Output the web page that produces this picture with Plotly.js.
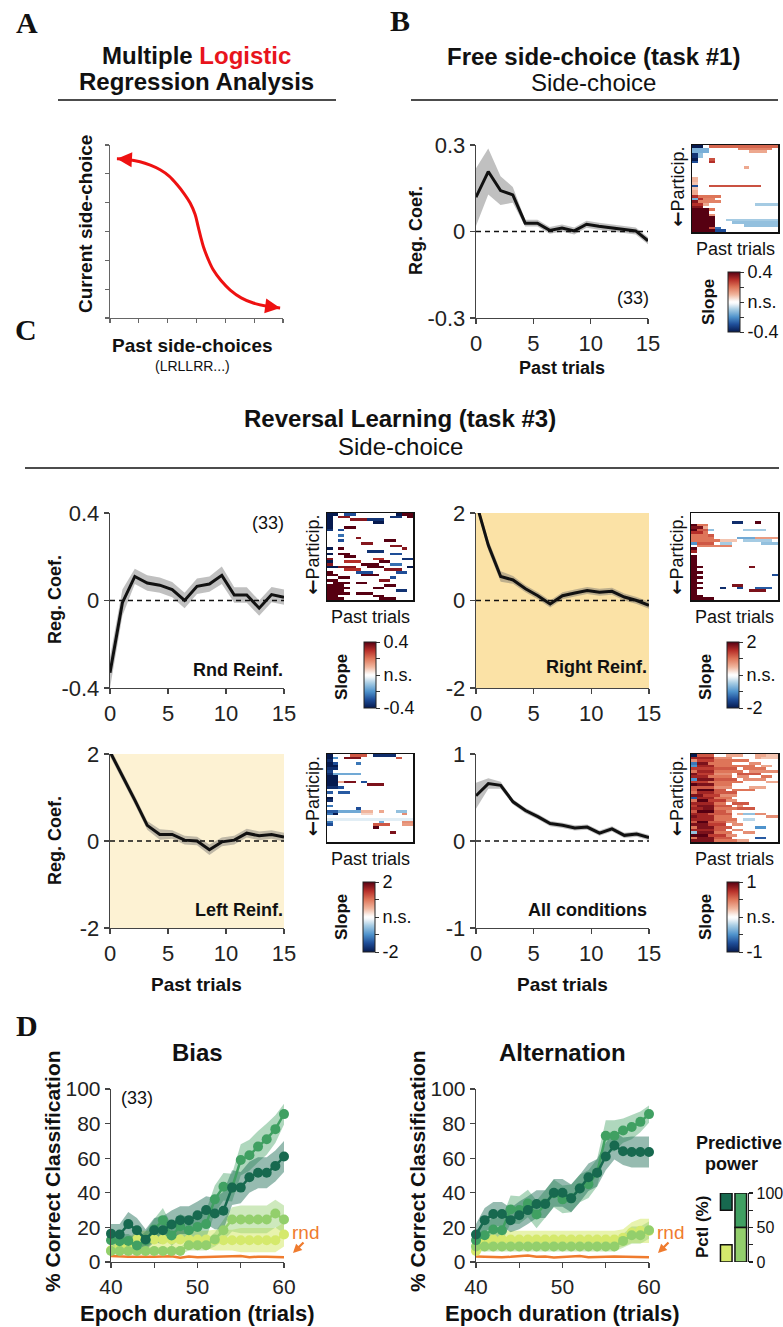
<!DOCTYPE html>
<html><head><meta charset="utf-8">
<script src="https://cdn.plot.ly/plotly-3.0.1.min.js"></script>
<style>html,body{margin:0;padding:0;background:#fff}#chart{width:783px;height:1327px}</style>
</head><body><div id="chart"></div>
<script>
// ---------------- DATA ----------------
// Panel A: schematic logistic curve (axis units 0..6)
const sigX = [0.24,0.6,1.04,1.4,1.74,2.05,2.33,2.58,2.78,2.95,3.06,3.15,3.24,3.4,3.58,3.85,4.17,4.55,4.97,5.45,5.9];
const sigY = [5.52,5.5,5.42,5.3,5.14,4.92,4.62,4.3,3.99,3.6,3.16,2.8,2.47,2.05,1.67,1.3,0.97,0.7,0.52,0.41,0.35];

// Past trials (x positions of the 15 coefficients)
const trialX = [0,1.07,2.14,3.21,4.29,5.36,6.43,7.5,8.57,9.64,10.71,11.79,12.86,13.93,15];

// Panel B: free side-choice
const coefFree = [0.119,0.208,0.142,0.127,0.029,0.029,0.004,0.012,0.002,0.025,0.018,0.012,0.007,0.002,-0.032];
const semFree  = [0.1,0.08,0.05,0.027,0.012,0.012,0.012,0.012,0.012,0.012,0.012,0.012,0.012,0.012,0.012];

// Panel C: reversal learning
const coefRnd   = [-0.33,-0.01,0.11,0.08,0.07,0.05,0.0,0.065,0.075,0.115,0.025,0.025,-0.035,0.027,0.015];
const semRnd    = [0.07,0.06,0.035,0.035,0.035,0.035,0.035,0.035,0.035,0.04,0.035,0.035,0.035,0.035,0.035];
const coefRight = [2.25,1.26,0.55,0.47,0.27,0.11,-0.08,0.11,0.17,0.23,0.19,0.21,0.08,0.0,-0.11];
const semRight  = [0.1,0.12,0.12,0.09,0.08,0.08,0.08,0.08,0.08,0.08,0.08,0.08,0.08,0.08,0.08];
const coefLeft  = [2.05,1.5,0.94,0.36,0.15,0.15,0.02,0.0,-0.2,-0.02,0.02,0.18,0.12,0.15,0.09];
const semLeft   = [0.1,0.1,0.1,0.1,0.12,0.1,0.1,0.1,0.12,0.1,0.1,0.1,0.1,0.1,0.1];
const coefAll   = [0.52,0.66,0.64,0.45,0.35,0.28,0.2,0.18,0.15,0.16,0.09,0.14,0.065,0.08,0.04];
const semAll    = [0.15,0.06,0.04,0.03,0.03,0.03,0.03,0.03,0.03,0.03,0.03,0.03,0.03,0.03,0.03];

// Participant x past-trial slope maps: [row, firstCol, lastCol, slope]; other cells n.s.
const mapFree = [[0,0,1,-0.4],[0,3,14,0.22],[1,0,2,-0.15],[1,8,13,0.18],[2,0,2,-0.15],[2,10,12,0.12],
 [3,0,0,-0.35],[3,1,1,-0.12],[4,0,0,-0.35],[4,1,1,-0.12],[5,0,0,-0.4],[5,3,3,0.25],[6,0,0,-0.3],[6,3,3,0.3],
 [8,9,9,0.12],[12,0,0,0.1],[13,0,0,0.1],[14,0,0,0.08],[15,0,0,-0.3],[15,3,11,0.25],[16,0,0,0.08],[17,0,0,0.12],[18,0,0,0.12],
 [19,0,0,0.3],[19,1,4,0.2],[20,0,0,-0.15],[20,1,1,0.3],[20,2,3,0.18],[21,0,0,0.35],[21,1,4,0.18],
 [22,0,1,0.3],[22,2,2,0.12],[22,11,14,-0.1],[23,0,1,0.35],[24,0,2,0.4],[24,3,3,0.2],[25,0,2,0.4],
 [26,0,2,0.4],[26,3,3,0.15],[27,0,3,0.4],[28,0,3,0.4],[28,6,14,-0.1],[29,0,3,0.4],[29,7,14,-0.12],
 [30,0,3,0.4],[30,9,14,-0.12],[31,0,2,0.4],[31,3,3,0.25],[31,4,4,-0.25],[32,0,3,0.4],[32,4,5,-0.3]];
const mapRnd = [[0,0,1,-0.4],[0,3,4,-0.3],[0,12,12,-0.4],[0,13,14,0.4],[1,0,0,-0.4],[1,2,3,0.35],[1,11,12,-0.35],[1,14,14,0.4],
 [2,0,0,-0.4],[2,4,6,0.35],[2,7,9,-0.35],[3,0,0,-0.4],[3,8,9,-0.4],[4,0,0,-0.4],
 [5,0,0,-0.4],[5,3,4,0.4],[6,0,0,-0.35],[6,2,2,-0.3],[8,2,2,-0.25],[9,5,5,0.35],
 [10,2,2,-0.3],[10,10,11,0.4],[11,6,7,0.35],[12,11,12,0.35],
 [13,0,0,-0.4],[13,2,2,0.4],[13,13,13,0.35],[14,7,9,-0.35],
 [15,0,0,-0.4],[15,2,3,0.4],[15,11,12,-0.3],[16,3,4,0.4],
 [17,0,0,0.35],[17,8,9,0.3],[17,13,14,-0.35],[18,0,0,-0.4],[18,3,5,0.3],[18,9,10,0.4],
 [19,0,0,0.35],[19,6,8,0.4],[19,11,12,-0.25],[20,0,1,-0.4],[20,2,4,0.35],[20,7,9,0.4],[20,14,14,-0.4],
 [21,3,5,0.3],[21,10,12,0.35],[22,0,0,0.4],[22,5,7,-0.3],[22,12,13,-0.3],
 [23,0,1,0.4],[23,6,8,0.4],[24,2,3,0.4],[24,11,11,-0.3],
 [25,0,1,0.4],[25,9,10,0.35],[26,1,3,0.4],[26,5,6,0.4],[27,0,2,0.4],[27,10,11,0.4],
 [28,0,3,0.4],[28,8,9,0.4],[29,0,2,0.4],[29,12,13,-0.35],
 [30,0,3,0.4],[30,5,7,0.4],[31,0,1,0.4],[31,8,9,0.4],[32,0,2,0.4],[32,9,11,0.4]];
const mapRight = [[3,7,8,-1.8],[3,11,11,2],[4,0,0,2],[4,1,2,1.0],[5,0,1,1.8],[5,2,2,0.6],[6,0,0,2],[6,1,2,1.2],[6,3,3,-0.6],[6,9,12,-0.5],
 [7,0,1,1.5],[7,2,2,1.0],[8,0,2,1.0],[8,3,3,1.2],[9,0,3,1.0],[9,8,10,-0.8],[9,11,14,0.7],[10,0,4,1.0],[10,5,7,0.4],[10,9,13,-0.5],
 [11,0,0,-1.0],[11,1,3,1.2],[11,5,6,-0.5],[11,12,14,-0.6],[12,1,6,0.9],[13,0,0,2],[14,0,0,1.6],[16,0,0,2],[17,0,0,2],
 [18,0,0,2],[19,0,0,2],[20,0,1,2],[20,10,10,1.8],[21,0,0,2],[22,0,1,2],[23,0,0,2],[23,14,14,-1.5],[24,0,1,2],[25,0,0,2],
 [26,0,1,2],[27,0,0,2],[27,7,8,1.8],[28,0,1,2],[28,5,5,-1.8],[28,8,8,-1.6],[28,11,13,-1.4],[29,0,0,2],[29,10,12,1.8],
 [30,0,0,2],[31,0,1,2],[32,0,3,2]];
const mapLeft = [[0,0,0,-2],[0,4,6,1.2],[0,8,11,-1.8],[1,0,0,-2],[1,1,1,-1],[1,3,5,1.8],[1,12,12,1.2],[2,0,0,-1.8],[3,0,0,-2],[3,1,1,-1.5],[3,5,5,-1.2],
 [4,0,1,-2],[5,0,1,-1.8],[6,0,0,-1.6],[7,0,0,-1.8],[7,1,5,-0.8],[8,0,1,-2],[9,0,1,-2],[10,0,1,-2],[10,2,2,0.6],[10,3,4,1.8],[10,6,6,-1.5],
 [11,0,1,-2],[11,7,9,1.8],[12,0,1,-1.8],[12,2,2,-1.5],[14,0,0,-1.4],[14,2,3,-1.4],[16,0,0,-2],[17,0,0,-1.8],[19,0,0,-1.2],[20,5,5,-1.5],
 [21,0,1,-1.4],[21,2,5,-0.8],[21,6,7,0.5],[21,9,9,0.6],[21,12,13,-0.6],[22,0,0,-1.2],[22,1,1,-2],[22,6,7,0.3],[22,13,13,0.8],
 [24,0,14,-0.2],[25,0,0,-1.2],[25,9,9,-0.8],[25,13,14,0.8],[26,0,0,-1.5],[26,8,10,1.2],[26,13,14,0.7],[27,8,8,2],[29,11,11,1.8]];
const mapAll = [[0,0,0,-1],[0,1,3,0.6],[0,6,8,0.3],[0,11,12,0.3],[0,13,14,0.2],[1,0,0,0.8],[1,1,3,0.8],[1,4,6,0.4],[1,11,11,0.3],[1,12,14,0.2],
 [2,0,0,0.4],[2,1,3,0.7],[2,4,9,0.5],[3,0,0,-0.6],[3,1,2,0.9],[3,3,6,0.5],[3,10,11,0.4],[4,0,0,-0.5],[4,1,3,0.8],[4,4,10,0.5],[4,12,13,0.3],
 [5,0,3,0.7],[5,4,7,0.6],[5,9,12,0.5],[6,0,0,0.5],[6,1,3,0.8],[6,4,8,0.5],[6,10,14,0.4],[7,0,0,0.9],[7,1,3,0.7],[7,4,6,0.4],[7,8,11,0.6],
 [8,0,2,0.8],[8,3,6,0.5],[8,8,9,0.4],[8,12,13,0.5],[9,0,0,-0.5],[9,1,3,0.9],[9,4,7,0.6],[9,9,12,0.4],[10,0,2,0.7],[10,3,8,0.5],[10,13,14,0.3],
 [11,0,0,1],[11,1,3,0.9],[11,4,6,0.5],[12,0,3,0.6],[12,4,6,0.4],[12,10,12,0.3],[13,0,0,0.6],[13,1,3,1],[13,4,5,0.6],[13,7,10,0.5],
 [14,0,0,0.5],[14,1,3,0.8],[14,4,7,0.6],[15,0,1,0.9],[15,2,4,0.7],[15,5,7,0.4],[16,0,0,-0.7],[16,1,3,0.8],[16,4,6,0.5],
 [17,0,0,0.5],[17,1,2,1],[17,3,5,0.7],[17,6,7,0.4],[18,0,3,0.8],[18,4,5,0.5],[18,7,9,0.6],[19,0,0,0.7],[19,1,3,0.9],[19,4,6,0.6],[19,8,8,0.4],
 [20,0,1,0.8],[20,2,3,0.9],[20,4,7,0.5],[20,8,10,0.6],[21,0,0,0.6],[21,1,3,1],[21,4,5,0.6],[21,6,6,0.4],[22,0,2,0.8],[22,3,6,0.6],[22,8,8,0.3],[22,9,10,-0.3],[22,11,12,0.4],
 [23,0,0,0.9],[23,1,3,0.8],[23,4,6,0.5],[23,13,14,0.4],[24,0,3,0.8],[24,4,7,0.5],[24,9,10,-0.2],[25,0,0,0.6],[25,1,2,1],[25,3,5,0.6],[25,6,7,0.4],
 [26,0,2,0.9],[26,3,5,0.7],[26,7,8,0.4],[27,0,0,0.5],[27,1,3,0.9],[27,4,6,0.6],[27,11,12,-0.5],[28,0,3,0.8],[28,4,5,0.6],[28,7,8,0.4],
 [29,0,0,-0.3],[29,1,3,0.9],[29,4,6,0.5],[29,9,10,0.4],[30,0,2,1],[30,3,5,0.7],[30,6,7,0.4],[31,0,0,0.5],[31,1,3,0.9],[31,4,6,0.6],[31,11,12,-0.7],
 [32,0,3,0.9],[32,4,7,0.5],[32,8,9,0.3]];

// Panel D: % correct classification vs epoch duration
const epochX = [40,41,42,43,44,45,46,47,48,49,50,51,52,53,54,55,56,57,58,59,60];
const biasTop25    = [16.4,15.9,21.9,18.4,13,18.4,18.4,21.7,24.2,24.2,27,30,28,29.6,43,43,49,51.6,51.6,55.5,61];
const biasTop25Sem = [5.5,6,7,7,6,7,8,8,8,8,8,8,9,11,10,9,9,9,9,9,9];
const biasTop50    = [12.6,12,12.2,9.5,12.6,18.8,24.2,15.3,20.7,18.4,20.3,21.9,36.2,43.5,43,59,61.7,66.7,71,76.8,85.5];
const biasTop50Sem = [4,4,4,4,5,6,7,6,7,7,7,8,8,8,8,9,9,9,9,8,6];
const biasBot50    = [6.4,6.4,6.4,6.4,6.4,6.4,6.4,6.4,6.4,9.7,9.7,9.7,13,18.4,24.6,24.6,24.6,24.6,24.6,28,24.6];
const biasBot50Sem = [2,2,2,2,2,2,2,2,2,3,3,3,4,6,7,8,8,8,8,8,8];
const biasBot25    = [6.8,9.7,9.7,13,13,13,13,13,13,13,13,13,12.6,12.6,12.6,12.6,12.6,12.6,12.6,12.6,15.9];
const biasBot25Sem = [3,4,4,5,5,5,5,5,5,5,5,5,6,6,6,7,7,7,7,7,7];
const biasRnd      = [3.5,3.2,3.0,3.1,2.9,3.0,3.2,3.3,2.5,3.2,2.8,3.0,3.1,3.0,3.2,3.4,2.7,3.1,3.0,2.9,2.8];

const altTop25     = [15.9,24.2,27.7,27.7,24.2,27,30,33.5,33.5,40,40,36.8,42.5,49,51.6,61,67.3,64,63.6,63.6,63.6];
const altTop25Sem  = [6,7,7,7,7,8,8,8,8,8,8,8,8,8,8,8,8,8,9,9,9];
const altTop50     = [12.6,15.5,18.8,18.4,30.4,30,33.8,27.5,33.8,39.7,36.2,36.8,42.6,45,51.6,73,73,76,78,81,85.5];
const altTop50Sem  = [5,6,7,7,8,8,8,8,8,8,8,8,8,8,8,9,9,7,7,6,5];
const altBot50     = [9,9,9,9,9,9,9,9,9,9,9,9,9,9,9,9,9,12.2,15.5,15.5,18.4];
const altBot50Sem  = [3,3,3,3,3,3,3,3,3,3,3,3,3,3,3,3,3,4,5,5,5];
const altBot25     = [6.4,12,13,13,13,13,13,13,13,13,13,13,13,13,13,13,13,14,17,18,18];
const altBot25Sem  = [3,4,5,5,5,5,5,5,5,5,5,5,5,5,5,5,5,5,6,7,7];
const altRnd       = [3.2,3.0,3.1,2.8,3.0,3.2,3.8,3.0,3.2,2.6,2.9,3.1,3.4,2.8,3.1,3.0,3.2,3.0,2.9,2.7,2.8];

// Predictive-power legend (percentile ranges)
const pctlColumn = [0,1,1,0];
const pctlLow    = [75,50,0,0];
const pctlHigh   = [100,100,50,25];

// ---------------- LAYOUT HELPERS ----------------
const W = 783, H = 1327;
const F = 'Liberation Sans, Arial, Helvetica, sans-serif';
const FS = 'Liberation Serif, Times New Roman, serif';
const INK = '#111';
const AX = '#444';
const cDark = '#17694f', cMed = '#40a062', cLight = '#93cf6c', cYel = '#d5e96c', cOr = '#ef7b2e';
const fDark = 'rgba(23,105,79,0.45)', fMed = 'rgba(64,160,98,0.42)', fLight = 'rgba(147,207,108,0.45)', fYel = 'rgba(213,233,108,0.55)';
const slopeScale = [[0,'#061a4f'],[0.13,'#1f4f9a'],[0.25,'#4f93cc'],[0.38,'#a8cde4'],[0.47,'#f3f7fa'],[0.5,'#ffffff'],[0.53,'#fbf1ec'],[0.62,'#f1b79f'],[0.75,'#de7559'],[0.87,'#b8302a'],[1,'#560012']];

const px = x => x / W;
const py = y => 1 - y / H;
const layout = {
  width: W, height: H, margin: {l:0, r:0, t:0, b:0},
  paper_bgcolor: '#fff', plot_bgcolor: 'rgba(0,0,0,0)', showlegend: false,
  font: {family: F, color: INK},
  annotations: [], shapes: []
};
function axes(n, x0, x1, y0, y1, xo, yo) {
  const xs = n === 1 ? 'xaxis' : 'xaxis' + n, ys = n === 1 ? 'yaxis' : 'yaxis' + n;
  const base = {showline:true, linecolor:AX, linewidth:1.3, ticks:'outside', ticklen:5, tickwidth:1.3, tickcolor:AX,
    zeroline:false, showgrid:false, fixedrange:true, tickfont:{family:F, size:20, color:'#222'}};
  layout[xs] = Object.assign({}, base, {domain:[px(x0), px(x1)], anchor: n === 1 ? 'y' : 'y' + n}, xo || {});
  layout[ys] = Object.assign({}, base, {domain:[py(y1), py(y0)], anchor: n === 1 ? 'x' : 'x' + n}, yo || {});
}
function ann(text, x, y, size, opts) {
  layout.annotations.push(Object.assign({xref:'paper', yref:'paper', x:px(x), y:py(y), xanchor:'center', yanchor:'middle',
    showarrow:false, text:text, font:{family:F, size:size, color:INK}}, opts || {}));
}
function hline(x0, x1, y) {
  layout.shapes.push({type:'line', xref:'paper', yref:'paper', x0:px(x0), x1:px(x1), y0:py(y), y1:py(y), line:{color:INK, width:1.5}});
}
const traces = [];
function band(x, m, s, n, fill) {
  const xa = n === 1 ? 'x' : 'x' + n, ya = n === 1 ? 'y' : 'y' + n;
  traces.push({type:'scatter', x:x, y:m.map((v,i)=>v - s[i]), xaxis:xa, yaxis:ya, mode:'lines', line:{width:0, color:'rgba(0,0,0,0)'}, hoverinfo:'skip'});
  traces.push({type:'scatter', x:x, y:m.map((v,i)=>v + s[i]), xaxis:xa, yaxis:ya, mode:'lines', line:{width:0, color:'rgba(0,0,0,0)'}, fill:'tonexty', fillcolor:fill, hoverinfo:'skip'});
}
function line(x, y, n, color, width, markers) {
  const xa = n === 1 ? 'x' : 'x' + n, ya = n === 1 ? 'y' : 'y' + n;
  const t = {type:'scatter', x:x, y:y, xaxis:xa, yaxis:ya, mode: markers ? 'lines+markers' : 'lines',
    line:{color:color, width:width}, hoverinfo:'skip', cliponaxis:false};
  if (markers) t.marker = {size:10, color:color};
  traces.push(t);
}
function buildMap(segs) {
  const z = [];
  for (let r = 0; r < 33; r++) z.push(new Array(15).fill(null));
  segs.forEach(([r, c0, c1, v]) => { for (let c = c0; c <= c1; c++) z[r][c] = v; });
  return z;
}
function heat(segs, n, zmax, cbx, cbTop, cbBot, labels) {
  traces.push({type:'heatmap', z:buildMap(segs), xaxis:'x'+n, yaxis:'y'+n, colorscale:slopeScale, zmin:-zmax, zmax:zmax,
    hoverinfo:'skip', showscale:true,
    colorbar:{x:px(cbx), xanchor:'left', y:py((cbTop+cbBot)/2), yanchor:'middle', len:cbBot-cbTop, lenmode:'pixels',
      thickness:12, thicknessmode:'pixels', outlinewidth:1, outlinecolor:'#222', xpad:0, ypad:0, borderwidth:0,
      tickvals:[-zmax,-zmax/2,0,zmax/2,zmax], ticktext:[labels[0],'',labels[1],'',labels[2]],
      ticks:'outside', ticklen:4, tickcolor:'#333', tickfont:{family:F, size:18, color:INK}}});
}
const heatAx = {showline:true, mirror:true, linecolor:INK, linewidth:1.5, ticks:'', showticklabels:false};
function heatAxes(n, x0, x1, y0, y1) {
  axes(n, x0, x1, y0, y1, Object.assign({}, heatAx, {range:[-0.5,14.5]}), Object.assign({}, heatAx, {range:[32.5,-0.5]}));
  ann('<span style="font-family:DejaVu Sans"><b>\u2190</b></span>Particip.', x0 - 15, (y0 + y1) / 2 - 2, 18, {textangle:-90});
  ann('Past trials', (x0 + x1) / 2, y1 + 17, 18);
}
function zeroDash(n) {
  layout.shapes.push({type:'line', xref:'x'+n, yref:'y'+n, x0:0, x1:15, y0:0, y1:0, line:{color:INK, width:1.5, dash:'5px,4px'}});
}
function coefAxes(n, x0, x1, y0, y1, lim, ticks) {
  axes(n, x0, x1, y0, y1, {range:[0,15], tickvals:[0,5,10,15], tickfont:{family:F, size:22, color:'#222'}},
    {range:[-lim, lim], tickvals:[-lim,0,lim], ticktext:ticks, tickfont:{family:F, size:22, color:'#222'}});
  zeroDash(n);
}
const greyBand = 'rgba(105,105,105,0.42)';

// ---------------- PANEL A ----------------
ann('<b>A</b>', 27, 23, 30, {font:{family:FS, size:30, color:INK}});
ann('<b>Multiple <span style="color:#e8141c">Logistic</span></b>', 197, 55, 24);
ann('<b>Regression Analysis</b>', 197, 82, 24);
hline(58, 336, 100);
axes(1, 110, 283, 145, 318, {range:[0,6], dtick:1, showticklabels:false, linecolor:'#666', tickcolor:'#666', ticklen:4},
  {range:[0,6], dtick:1, showticklabels:false, linecolor:'#666', tickcolor:'#666', ticklen:4});
traces.push({type:'scatter', x:sigX, y:sigY, xaxis:'x', yaxis:'y', mode:'lines', line:{color:'#ee1111', width:3, shape:'spline'}, hoverinfo:'skip'});
layout.annotations.push({xref:'x', yref:'y', axref:'x', ayref:'y', x:sigX[0], y:sigY[0], ax:sigX[1], ay:sigY[1], text:'', showarrow:true,
  arrowhead:2, arrowsize:1, arrowwidth:3, arrowcolor:'#ee1111'});
layout.annotations.push({xref:'x', yref:'y', axref:'x', ayref:'y', x:sigX[sigX.length-1], y:sigY[sigY.length-1], ax:sigX[sigX.length-2], ay:sigY[sigY.length-2], text:'', showarrow:true,
  arrowhead:2, arrowsize:1, arrowwidth:3, arrowcolor:'#ee1111'});
ann('<b>Current side-choice</b>', 86, 224, 19, {textangle:-90});
ann('<b>Past side-choices</b>', 192, 345, 19);
ann('(LRLLRR...)', 192, 366, 14);

// ---------------- PANEL B ----------------
ann('<b>B</b>', 400, 20, 30, {font:{family:FS, size:30, color:INK}});
ann('<b>Free side-choice (task #1)</b>', 593, 57, 24);
ann('Side-choice', 593, 83, 24);
hline(411, 778, 100);
coefAxes(2, 476, 648, 145, 318, 0.3, ['-0.3','0','0.3']);
band(trialX, coefFree, semFree, 2, greyBand);
line(trialX, coefFree, 2, INK, 3, false);
ann('<b>Reg. Coef.</b>', 416, 231, 18, {textangle:-90});
ann('<b>Past trials</b>', 562, 368, 18);
ann('(33)', 633, 298, 18);
heatAxes(3, 692, 778, 145, 232);
heat(mapFree, 3, 0.4, 728, 272, 332, ['-0.4','n.s.','0.4']);
ann('<b>Slope</b>', 709, 302, 17, {textangle:-90});

// ---------------- PANEL C ----------------
ann('<b>C</b>', 26, 330, 30, {font:{family:FS, size:30, color:INK}});
ann('<b>Reversal Learning (task #3)</b>', 400, 418, 24);
ann('Side-choice', 400, 446, 24);
hline(25, 779, 468);

// C1 random reinforcement
coefAxes(4, 110, 284, 513, 688, 0.4, ['-0.4','0','0.4']);
band(trialX, coefRnd, semRnd, 4, greyBand);
line(trialX, coefRnd, 4, INK, 3, false);
ann('(33)', 268, 523, 18);
ann('<b>Rnd Reinf.</b>', 285, 670, 18, {xanchor:'right'});
ann('<b>Reg. Coef.</b>', 55, 600, 18, {textangle:-90});
heatAxes(5, 327, 413, 513, 600);
heat(mapRnd, 5, 0.4, 364, 642, 708, ['-0.4','n.s.','0.4']);
ann('<b>Slope</b>', 341, 677, 17, {textangle:-90});

// C2 right reinforcement
layout.shapes.push({type:'rect', xref:'x6', yref:'y6', x0:0, x1:15, y0:-2, y1:2, fillcolor:'#fbe2a6', line:{width:0}, layer:'below'});
coefAxes(6, 476, 649, 513, 688, 2, ['-2','0','2']);
band(trialX, coefRight, semRight, 6, greyBand);
line(trialX, coefRight, 6, INK, 3, false);
ann('<b>Right Reinf.</b>', 649, 667, 18, {xanchor:'right'});
heatAxes(7, 691, 778, 513, 600);
heat(mapRight, 7, 2, 727, 642, 708, ['-2','n.s.','2']);
ann('<b>Slope</b>', 705, 677, 17, {textangle:-90});

// C3 left reinforcement
layout.shapes.push({type:'rect', xref:'x8', yref:'y8', x0:0, x1:15, y0:-2, y1:2, fillcolor:'#fdf2d3', line:{width:0}, layer:'below'});
coefAxes(8, 110, 284, 754, 928, 2, ['-2','0','2']);
band(trialX, coefLeft, semLeft, 8, greyBand);
line(trialX, coefLeft, 8, INK, 3, false);
ann('<b>Left Reinf.</b>', 285, 910, 18, {xanchor:'right'});
ann('<b>Reg. Coef.</b>', 55, 841, 18, {textangle:-90});
heatAxes(9, 327, 413, 754, 842);
heat(mapLeft, 9, 2, 363, 882, 952, ['-2','n.s.','2']);
ann('<b>Slope</b>', 341, 917, 17, {textangle:-90});
ann('<b>Past trials</b>', 197, 984, 19);

// C4 all conditions
coefAxes(10, 476, 649, 754, 928, 1, ['-1','0','1']);
band(trialX, coefAll, semAll, 10, greyBand);
line(trialX, coefAll, 10, INK, 3, false);
ann('<b>All conditions</b>', 649, 910, 18, {xanchor:'right'});
heatAxes(11, 691, 778, 754, 842);
heat(mapAll, 11, 1, 727, 882, 952, ['-1','n.s.','1']);
ann('<b>Slope</b>', 705, 917, 17, {textangle:-90});
ann('<b>Past trials</b>', 562, 984, 19);

// ---------------- PANEL D ----------------
ann('<b>D</b>', 27, 1025, 30, {font:{family:FS, size:30, color:INK}});
function dPanel(n, x0, x1, title, top25, top25s, top50, top50s, bot50, bot50s, bot25, bot25s, rnd) {
  axes(n, x0, x1, 1089, 1262,
    {range:[40,60], tickvals:[40,50,60], minor:{tickvals:[45,55], ticks:'outside', ticklen:5, tickcolor:AX, tickwidth:1.3}, tickfont:{family:F, size:21, color:'#222'}},
    {range:[0,100], tickvals:[0,20,40,60,80,100], tickfont:{family:F, size:21, color:'#222'}});
  band(epochX, bot25, bot25s, n, fYel);
  band(epochX, bot50, bot50s, n, fLight);
  band(epochX, top50, top50s, n, fMed);
  band(epochX, top25, top25s, n, fDark);
  line(epochX, rnd, n, cOr, 2.5, false);
  line(epochX, bot25, n, cYel, 2.5, true);
  line(epochX, bot50, n, cLight, 2.5, true);
  line(epochX, top50, n, cMed, 2.5, true);
  line(epochX, top25, n, cDark, 2.5, true);
  const cx = (x0 + x1) / 2;
  ann('<b>' + title + '</b>', cx, 1052, 24);
  ann('<b>Epoch duration (trials)</b>', cx, 1313, 22);
  ann('<b>% Correct Classification</b>', x0 - 59, 1171, 21, {textangle:-90});
  ann('rnd', x1 + 21, 1232, 19, {font:{family:F, size:19, color:cOr}});
  layout.annotations.push({xref:'paper', yref:'paper', x:px(x1 + 9), y:py(1253), ax:12, ay:-12, text:'', showarrow:true,
    arrowhead:2, arrowsize:0.8, arrowwidth:2.2, arrowcolor:cOr});
}
dPanel(12, 111, 284, 'Bias', biasTop25, biasTop25Sem, biasTop50, biasTop50Sem, biasBot50, biasBot50Sem, biasBot25, biasBot25Sem, biasRnd);
ann('(33)', 137, 1098, 18);
dPanel(13, 476, 649, 'Alternation', altTop25, altTop25Sem, altTop50, altTop50Sem, altBot50, altBot50Sem, altBot25, altBot25Sem, altRnd);

// Predictive power legend bars
axes(14, 719, 748, 1193, 1262, {range:[-0.5,1.5], visible:false},
  {range:[0,100], side:'right', tickvals:[0,25,50,75,100], ticktext:['0','','50','','100'], linecolor:'#222', tickcolor:'#222', ticklen:4,
   tickfont:{family:F, size:16, color:INK}});
traces.push({type:'bar', x:pctlColumn, base:pctlLow, y:pctlHigh.map((v,i)=>v - pctlLow[i]), xaxis:'x14', yaxis:'y14', width:0.8,
  marker:{color:[cDark, cMed, cLight, cYel], line:{color:'#111', width:1.5}}, hoverinfo:'skip'});
ann('<b>Predictive</b>', 739, 1143, 18);
ann('<b>power</b>', 731, 1164, 18);
ann('<b>Pctl (%)</b>', 702, 1227, 17, {textangle:-90});

Plotly.newPlot('chart', traces, layout, {staticPlot:true, displayModeBar:false});
</script>
</body></html>
